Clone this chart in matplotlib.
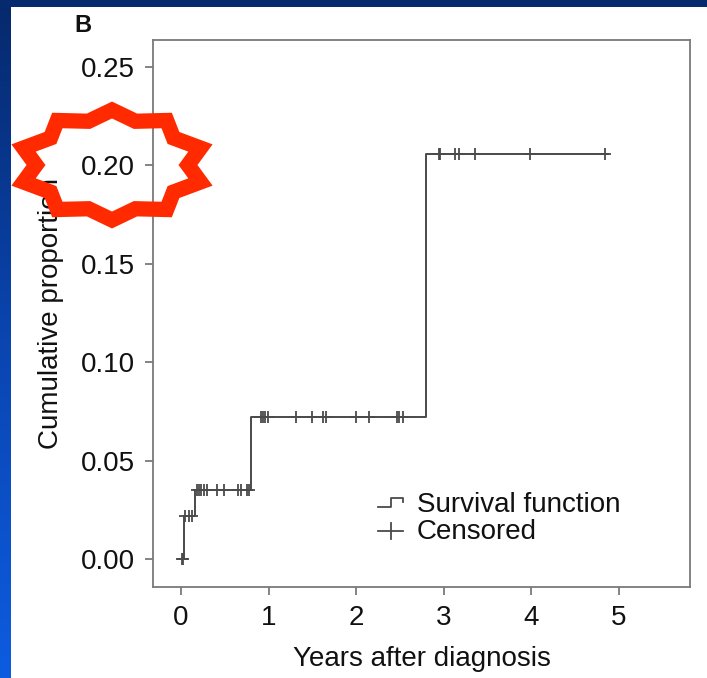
import numpy as np
import matplotlib
matplotlib.use("Agg")
import matplotlib.pyplot as plt
from matplotlib.lines import Line2D
from matplotlib.legend_handler import HandlerBase
from matplotlib.patches import Polygon
from matplotlib.colors import LinearSegmentedColormap

plt.rcParams['font.family'] = ['Liberation Sans', 'DejaVu Sans']

# ---- data ----
event_times = [0.0, 0.03, 0.16, 0.80, 2.80]
cum_prop = [0.0, 0.022, 0.035, 0.072, 0.206]
end_time = 4.87
censor_times = [0.01, 0.02,
                0.05, 0.09, 0.12,
                0.18, 0.21, 0.23, 0.26, 0.30, 0.41, 0.49, 0.65, 0.68, 0.75, 0.78,
                0.91, 0.93, 0.96, 0.99, 1.31, 1.49, 1.62, 1.65, 2.00, 2.14, 2.46, 2.49, 2.53,
                2.94, 2.96, 3.13, 3.17, 3.36, 3.98, 4.84]
x_ticks = [0, 1, 2, 3, 4, 5]
y_ticks = [0.00, 0.05, 0.10, 0.15, 0.20, 0.25]
y_ticklabels = ["0.00", "0.05", "0.10", "0.15", "0.20", "0.25"]

W, H = 707, 678
fig = plt.figure(figsize=(W / 100, H / 100), dpi=100)
fig.patch.set_facecolor('white')

# ---- main axes ----
L, R, T, B = 153, 690, 40, 587
ax = fig.add_axes([L / W, (H - B) / H, (R - L) / W, (B - T) / H])
line_col = '#4a4a4a'
xs = list(event_times) + [end_time]
ys = list(cum_prop) + [cum_prop[-1]]
ax.step(xs, ys, where='post', color=line_col, lw=1.4, zorder=3)
idx = np.searchsorted(event_times, censor_times, side='right') - 1
cy = np.array(cum_prop)[idx]
ax.plot(censor_times, cy, linestyle='none', marker='+', markersize=8,
        mew=1.3, color=line_col, zorder=4)

ax.set_xlim(-0.32, 5.81)
ax.set_ylim(-0.0142, 0.2637)
ax.set_xticks(x_ticks)
ax.set_xticklabels([str(v) for v in x_ticks])
ax.set_yticks(y_ticks)
ax.set_yticklabels(y_ticklabels)
for s in ax.spines.values():
    s.set_color('#7a7a7a')
    s.set_linewidth(1.3)
ax.tick_params(axis='both', direction='out', length=6, width=1.3,
               color='#7a7a7a', labelsize=20, labelcolor='#111111')
ax.tick_params(axis='x', pad=7)
ax.tick_params(axis='y', pad=7)
ax.set_xlabel('Years after diagnosis', fontsize=20, color='#111111', labelpad=11)
ax.set_ylabel('Cumulative proportion', fontsize=20, color='#111111', labelpad=12)


class StepHandler(HandlerBase):
    def create_artists(self, legend, orig_handle, xdescent, ydescent,
                       width, height, fontsize, trans):
        x0, x1 = -xdescent, -xdescent + width
        y0 = -ydescent + height * 0.25
        y1 = -ydescent + height * 0.7
        xm = x0 + width * 0.5
        ln = Line2D([x0, xm, xm, x1, x1], [y0, y0, y1, y1, y1 - height * 0.2],
                    color=line_col, lw=1.3, transform=trans)
        return [ln]


class CrossHandler(HandlerBase):
    def create_artists(self, legend, orig_handle, xdescent, ydescent,
                       width, height, fontsize, trans):
        x0, x1 = -xdescent, -xdescent + width
        ym = -ydescent + height * 0.4
        xm = (x0 + x1) / 2
        h = Line2D([x0, x1], [ym, ym], color=line_col, lw=1.3, transform=trans)
        v = Line2D([xm, xm], [ym - height * 0.4, ym + height * 0.4],
                   color=line_col, lw=1.3, transform=trans)
        return [h, v]


h_surv = Line2D([], [], color=line_col)
h_cens = Line2D([], [], color=line_col, marker='+')
leg = ax.legend([h_surv, h_cens], ['Survival function', 'Censored'],
                handler_map={h_surv: StepHandler(), h_cens: CrossHandler()},
                loc='lower left', bbox_to_anchor=((378 - L) / (R - L), (B - 545) / (B - T)),
                frameon=False, fontsize=20, handlelength=0.9, handletextpad=0.5,
                labelspacing=0.05, borderpad=0, borderaxespad=0)
for t in leg.get_texts():
    t.set_color('#111111')

fig.text(74 / W, 1 - 26 / H, 'B', fontsize=17, fontweight='bold',
         va='center', ha='left', color='#111111')

# ---- overlay: blue frame and red star ----
ov = fig.add_axes([0, 0, 1, 1], zorder=10)
ov.axis('off')
ov.patch.set_alpha(0)
grad = np.linspace(0, 1, 256).reshape(-1, 1)
cmap = LinearSegmentedColormap.from_list('bl', ['#06296c', '#0a45b0', '#0d5ce0'])
ov.imshow(grad, extent=(0, 11, H, 0), cmap=cmap, aspect='auto', interpolation='bilinear')
ov.add_patch(plt.Rectangle((0, 0), W, 7, color='#052a6e', lw=0))
ov.set_xlim(0, W)
ov.set_ylim(H, 0)

cx, cyy = 112, 165
rxo, ryo, rxi, ryi = 93, 55, 76, 46
pts = []
for k in range(20):
    ang = np.deg2rad(90 + k * 18)
    if k % 2 == 0:
        pts.append((cx + rxo * np.cos(ang), cyy - ryo * np.sin(ang)))
    else:
        pts.append((cx + rxi * np.cos(ang), cyy - ryi * np.sin(ang)))
ov.add_patch(Polygon(pts, closed=True, fill=False, edgecolor='#ff2a00',
                     lw=11, joinstyle='miter'))

fig.savefig('out.png', dpi=100, facecolor='white')
